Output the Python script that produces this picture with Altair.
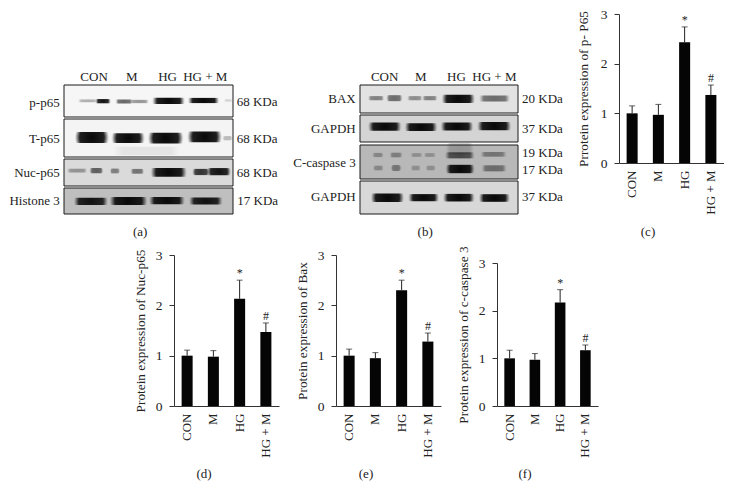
import altair as alt
import pandas as pd

FONT = "Liberation Serif"
INK = "#222222"
groups = ["CON", "M", "HG", "HG + M"]

# bar charts: mean and top of the error bar
c_mean = [1.0, 0.97, 2.43, 1.37]; c_top = [1.15, 1.18, 2.74, 1.57]
d_mean = [1.0, 0.98, 2.13, 1.47]; d_top = [1.11, 1.10, 2.50, 1.65]
e_mean = [1.0, 0.95, 2.30, 1.28]; e_top = [1.13, 1.06, 2.50, 1.45]
f_mean = [1.0, 0.97, 2.17, 1.17]; f_top = [1.17, 1.10, 2.44, 1.28]
marks = ["", "", "*", "#"]

# blot bands, read on a measuring grid: (left, right, centre, thickness, darkness)
a1_bands = [(236,292,152,6,.3),(288,332,153,9,.95),(348,398,154,8,.6),(392,446,154,7,.4),
            (458,554,152,13,1),(565,657,151,11,1),(673,697,151,5,.15)]
a2_bands = [(226,327,262,23,1),(336,434,264,21,1),(445,550,264,23,1),(563,665,260,23,1),
            (668,697,264,9,.25),(340,540,302,18,.07)]
a3_bands = [(203,262,362,8,.35),(270,310,362,11,.6),(331,360,363,10,.45),(393,432,364,10,.5),
            (453,560,367,18,1),(578,628,366,13,.8),(622,692,365,15,.95)]
a4_bands = [(223,324,454,15,.95),(330,442,453,17,1),(448,554,452,15,1),(568,667,453,15,.95)]
b1_bands = [(205,252,145,9,.45),(260,307,145,13,.55),(323,367,145,9,.4),(368,412,145,9,.45),
            (426,525,147,18,1),(539,630,146,13,.55)]
b2_bands = [(205,304,230,18,1),(315,412,232,17,1),(423,520,230,17,1),(533,634,229,18,1)]
b3_bands = [(218,250,315,9,.3),(270,307,315,10,.35),(333,367,315,8,.25),(373,407,315,8,.25),
            (436,524,316,13,.65),(543,620,313,10,.4),(220,250,354,10,.3),(273,304,354,13,.4),
            (333,362,354,10,.25),(378,407,354,10,.25),(438,524,357,18,1),(546,620,355,13,.45),
            (438,522,296,24,.2)]
b4_bands = [(213,312,443,18,1),(326,417,443,15,1),(430,524,443,16,1),(538,630,444,16,1)]

# blot measuring grids (reading units of each panel)
a_span = (193, 699)
b_span = (180, 655)
a1_span = (105, 200); a2_span = (207, 320); a3_span = (328, 407); a4_span = (415, 491)
b1_span = (105, 190); b2_span = (195, 277); b3_span = (285, 387); b4_span = (394, 491)

W, H = 716, 484
OX, OY = 8, 8  # page margin

band_stops = [alt.GradientStop(offset=0, color="rgba(8,8,8,1)"),
              alt.GradientStop(offset=.72, color="rgba(8,8,8,.9)"),
              alt.GradientStop(offset=1, color="rgba(8,8,8,0)")]
band_fill = alt.RadialGradient(gradient="radial", stops=band_stops, x1=.5, y1=.5, r1=0, x2=.5, y2=.5, r2=.5)

blank = alt.Data(values=[{"k": 0}])


def blot(bands, xs, ys, box, bg, left=None, right=None, top=None, caption=None):
    x0, y0, x1, y1 = box
    sx = alt.Scale(domain=list(xs), nice=False, zero=False, range=[x0 - OX, x1 - OX])
    sy = alt.Scale(domain=[ys[1], ys[0]], nice=False, zero=False, range=[y1 - OY, y0 - OY])
    X = lambda f: alt.X(f, scale=sx, axis=None)
    Y = lambda f: alt.Y(f, scale=sy, axis=None)
    layers = []
    back = pd.DataFrame({"a": [xs[0]], "b": [xs[1]], "c": [ys[0]], "d": [ys[1]]})
    layers.append(alt.Chart(back).mark_rect(fill=bg, stroke="#1a1a1a", strokeWidth=1).encode(
        x=X("a:Q"), x2="b:Q", y=Y("c:Q"), y2="d:Q"))
    df = pd.DataFrame(bands, columns=["a", "b", "c", "t", "op"])
    df["y0"] = df.c - df.t * .7
    df["y1"] = df.c + df.t * .7
    layers.append(alt.Chart(df).mark_rect(color=band_fill).encode(
        x=X("a:Q"), x2="b:Q", y=Y("y0:Q"), y2="y1:Q",
        opacity=alt.Opacity("op:Q", scale=None)))
    for rows, align, size in [(left, "right", 13), (right, "left", 13), (top, "center", 13), (caption, "center", 13)]:
        if rows:
            t = pd.DataFrame(rows, columns=["x", "y", "t"])
            layers.append(alt.Chart(t).mark_text(font=FONT, fontSize=size, color=INK, align=align,
                                                 baseline="middle").encode(x=X("x:Q"), y=Y("y:Q"), text="t:N"))
    return layers


def bars(mean, top, title, box, cap_pos, cap, pad):
    x0, y3, x1, y0 = box
    df = pd.DataFrame({"g": groups, "m": mean, "top": top, "s": marks})
    sx = alt.Scale(paddingInner=.58, paddingOuter=.29, range=[x0 - OX, x1 - OX])
    sy = alt.Scale(domain=[0, 3], nice=False, range=[y0 - OY, y3 - OY])
    xaxis = alt.Axis(orient="bottom", offset=(y0 - OY) - H, labelAngle=270, ticks=False, labelPadding=7,
                     labelFont=FONT, labelFontSize=13, labelColor=INK, domainColor="#333333", grid=False,
                     labelBaseline="middle")
    yaxis = alt.Axis(orient="left", offset=-(x0 - OX), values=[0, 1, 2, 3], format="d", grid=False, tickSize=5,
                     tickColor="#333333", domainColor="#333333", labelFont=FONT, labelFontSize=13.5,
                     labelColor=INK, labelPadding=7, titleFont=FONT, titleFontSize=13.3,
                     titleFontWeight="normal", titleColor=INK, titlePadding=pad)
    X = alt.X("g:N", sort=groups, title=None, scale=sx, axis=None)
    base = alt.Chart(df)
    layers = [
        base.mark_bar(color="#050505").encode(
            x=alt.X("g:N", sort=groups, title=None, scale=sx, axis=xaxis),
            y=alt.Y("m:Q", title=title, scale=sy, axis=yaxis)),
        base.mark_rule(color="#222222", strokeWidth=1).encode(
            x=X, y=alt.Y("m:Q", scale=sy, axis=None), y2="top:Q"),
        base.mark_tick(color="#222222", size=6, thickness=1, orient="horizontal").encode(
            x=X, y=alt.Y("top:Q", scale=sy, axis=None)),
        base.mark_text(font=FONT, fontSize=12, color=INK, dy=-7, baseline="middle").encode(
            x=X, y=alt.Y("top:Q", scale=sy, axis=None), text="s:N"),
        alt.Chart(blank).mark_text(font=FONT, fontSize=13, color=INK, baseline="middle", text=cap).encode(
            x=alt.value(cap_pos[0] - OX), y=alt.value(cap_pos[1] - OY)),
    ]
    return layers


lane_a = [(283, 80, "CON"), (396, 80, "M"), (503, 80, "HG"), (616, 80, "HG + M")]
lane_b = [(254, 80, "CON"), (363, 80, "M"), (470, 80, "HG"), (584, 80, "HG + M")]

layers = []
layers += blot(a1_bands, a_span, a1_span, (64, 85, 233, 117), "#f6f6f6", left=[(180, 157, "p-p65")], right=[(710, 155, "68 KDa")], top=lane_a)
layers += blot(a2_bands, a_span, a2_span, (64, 119, 233, 157), "#f4f4f4", left=[(180, 266, "T-p65")], right=[(710, 266, "68 KDa")])
layers += blot(a3_bands, a_span, a3_span, (64, 159, 233, 186), "#dadada", left=[(180, 369, "Nuc-p65")], right=[(710, 369, "68 KDa")])
layers += blot(a4_bands, a_span, a4_span, (64, 188, 233, 214), "#bfbfbf", left=[(180, 454, "Histone 3")], right=[(712, 454, "17 KDa")],
               caption=[(421, 545, "(a)")])
layers += blot(b1_bands, b_span, b1_span, (360, 85, 518, 113), "#e2e2e2", left=[(167, 149, "BAX")], right=[(667, 149, "20 KDa")], top=lane_b)
layers += blot(b2_bands, b_span, b2_span, (360, 115, 518, 142), "#d4d4d4", left=[(167, 236, "GAPDH")], right=[(667, 236, "37 KDa")])
layers += blot(b3_bands, b_span, b3_span, (360, 145, 518, 179), "#b8b8b8", left=[(167, 339, "C-caspase 3")],
               right=[(667, 309, "19 KDa"), (667, 359, "17 KDa")])
layers += blot(b4_bands, b_span, b4_span, (360, 181, 518, 214), "#d8d8d8", left=[(167, 440, "GAPDH")], right=[(667, 440, "37 KDa")],
               caption=[(376, 543, "(b)")])
layers += bars(c_mean, c_top, "Prrotein expression of p- P65", (619, 14, 724, 163), (648, 232), "(c)", 10)
layers += bars(d_mean, d_top, "Protein expression of Nuc-p65", (174, 255, 279, 406), (204, 474), "(d)", 8)
layers += bars(e_mean, e_top, "Protein expression of Bax", (336, 255, 441, 406), (366, 474), "(e)", 8)
layers += bars(f_mean, f_top, "Protein expression of c-caspase 3", (497, 263, 598, 406), (525, 474), "(f)", 8)

chart = alt.layer(*layers).resolve_scale(x="independent", y="independent").resolve_axis(
    x="independent", y="independent"
).properties(
    width=W, height=H, padding=0, background="white", autosize=alt.AutoSizeParams(type="none")
).configure_view(stroke=None)

chart.save("out.html", embed_options={"renderer": "svg", "actions": False})
